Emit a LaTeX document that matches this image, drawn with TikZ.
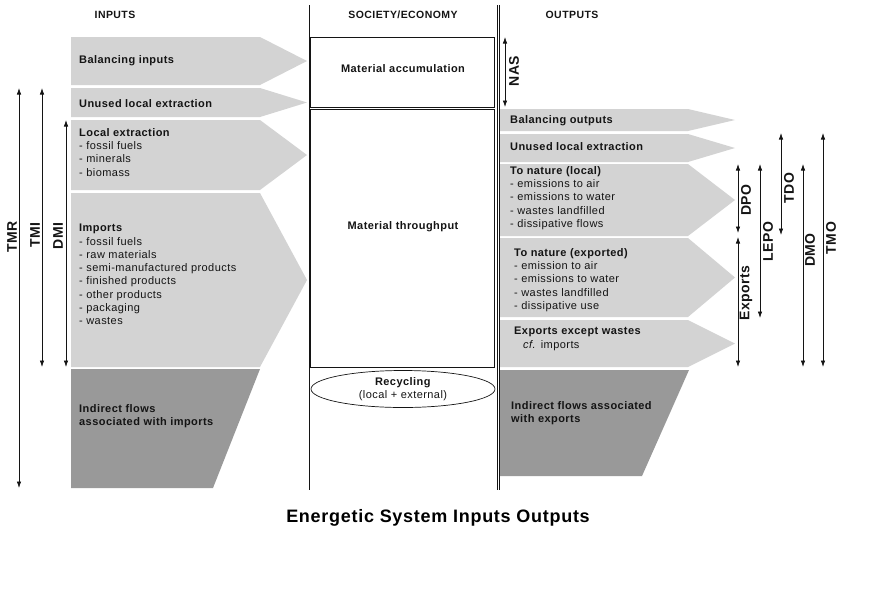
\documentclass[tikz,border=0pt]{standalone}
\usepackage{fontspec}
\setmainfont{Liberation Sans}[LetterSpace=4]
\usepackage{xcolor}
\usetikzlibrary{arrows.meta,shapes.geometric}

\definecolor{flowlight}{RGB}{211,211,211}
\definecolor{flowdark}{RGB}{153,153,153}
\definecolor{ink}{RGB}{20,20,20}

% flow arrows: #1 = top, #2 = bottom (pixel rows)
\newcommand{\inflow}[2]{\fill[flowlight] (71,#1) -- (260,#1) -- (307,{(#1+#2)/2}) -- (260,#2) -- (71,#2) -- cycle;}
\newcommand{\outflow}[2]{\fill[flowlight] (500,#1) -- (688,#1) -- (735,{(#1+#2)/2}) -- (688,#2) -- (500,#2) -- cycle;}

\begin{document}
\begin{tikzpicture}[x=1pt, y=-1pt,
  txt/.style={font=\fontsize{11}{13.3}\selectfont, text=ink, inner sep=0pt, align=left},
  txtb/.style={txt, font=\fontsize{11}{13.3}\selectfont\bfseries},
  head/.style={font=\fontsize{10.5}{12}\selectfont\bfseries, text=ink, inner sep=0pt},
  dimline/.style={{Latex[length=6.5pt,width=4.5pt]}-{Latex[length=6.5pt,width=4.5pt]}, line width=0.7pt, draw=ink},
  dimlabel/.style={font=\fontsize{14}{16}\selectfont\bfseries, text=ink, rotate=90, inner sep=0pt},
  sep/.style={line width=0.8pt, draw=ink}]
  \useasboundingbox (0,0) rectangle (880,600);

  % column headers
  \node[head] (hin) at (115,15) {INPUTS};
  \node[head] (hsoc) at (403,15) {SOCIETY/ECONOMY};
  \node[head] (hout) at (572,15) {OUTPUTS};

  % column separators (right one is doubled)
  \draw[sep] (309,5) -- (309,490);
  \draw[sep] (497,5) -- (497,490);
  \draw[sep] (499.5,5) -- (499.5,490);

  % inputs
  \inflow{37}{85}
  \inflow{88}{117}
  \inflow{120}{190}
  \inflow{193}{367}
  \fill[flowdark] (71,369) -- (260,369) -- (213,488) -- (71,488) -- cycle;
  \node[txtb, anchor=west] (balin) at (79,61) {Balancing inputs};
  \node[txtb, anchor=west] (unusedin) at (79,104) {Unused local extraction};
  \node[txt, anchor=north west] (localex) at (79,128)
    {\textbf{Local extraction}\\- fossil fuels\\- minerals\\- biomass};
  \node[txt, anchor=north west] (imports) at (79,224)
    {\textbf{Imports}\\- fossil fuels\\- raw materials\\- semi-manufactured products\\- finished products\\- other products\\- packaging\\- wastes};
  \node[txtb, anchor=north west] (indin) at (79,404)
    {Indirect flows\\associated with imports};

  % society / economy
  \draw[sep] (310,37) rectangle (494,107);
  \draw[sep] (310,109) rectangle (494,367);
  \node[txtb] (accum) at (403,69) {Material accumulation};
  \node[txtb] (through) at (403,227) {Material throughput};
  \node[txt, align=center, draw=ink, line width=0.7pt, ellipse, minimum width=184pt, minimum height=37pt] (recyc) at (403,389)
    {\textbf{Recycling}\\(local + external)};

  % outputs
  \outflow{109}{131}
  \outflow{134}{162}
  \outflow{164}{236}
  \outflow{238}{317}
  \outflow{320}{367}
  \fill[flowdark] (500,370) -- (689,370) -- (642,476) -- (500,476) -- cycle;
  \node[txtb, anchor=west] (balout) at (510,121) {Balancing outputs};
  \node[txtb, anchor=west] (unusedout) at (510,147) {Unused local extraction};
  \node[txt, anchor=north west] (natloc) at (510,166)
    {\textbf{To nature (local)}\\- emissions to air\\- emissions to water\\- wastes landfilled\\- dissipative flows};
  \node[txt, anchor=north west] (natexp) at (514,248)
    {\textbf{To nature (exported)}\\- emission to air\\- emissions to water\\- wastes landfilled\\- dissipative use};
  \node[txt, anchor=north west] (expwaste) at (514,327)
    {\textbf{Exports except wastes}\\\hspace{9pt}\textit{cf.} imports};
  \node[txtb, anchor=north west] (indout) at (511,401)
    {Indirect flows associated\\with exports};

  % indicator ranges: name/x/top/bottom/label x/label y
  \foreach \n/\x/\ya/\yb/\lx/\ly in {TMR/19/88/488/12/237, TMI/42/88/367/35/235,
      DMI/66/120/367/58/236, NAS/505/37/107/514/71, DPO/738/164/233/746/200,
      Exports/738/237/367/746/293, LEPO/760/164/318/768/242, TDO/781/133/235/789/188,
      DMO/803/164/367/810/250, TMO/823/133/367/831/238} {
    \coordinate (\n-t) at (\x,\ya);
    \coordinate (\n-b) at (\x,\yb);
    \draw[dimline] (\n-t) -- (\n-b);
    \node[dimlabel] (\n-lab) at (\lx,\ly) {\n};
  }

  % caption
  \node[font=\fontsize{18}{20}\selectfont\bfseries, text=black, inner sep=0pt] (title) at (438,518)
    {Energetic System Inputs Outputs};
\end{tikzpicture}
\end{document}
